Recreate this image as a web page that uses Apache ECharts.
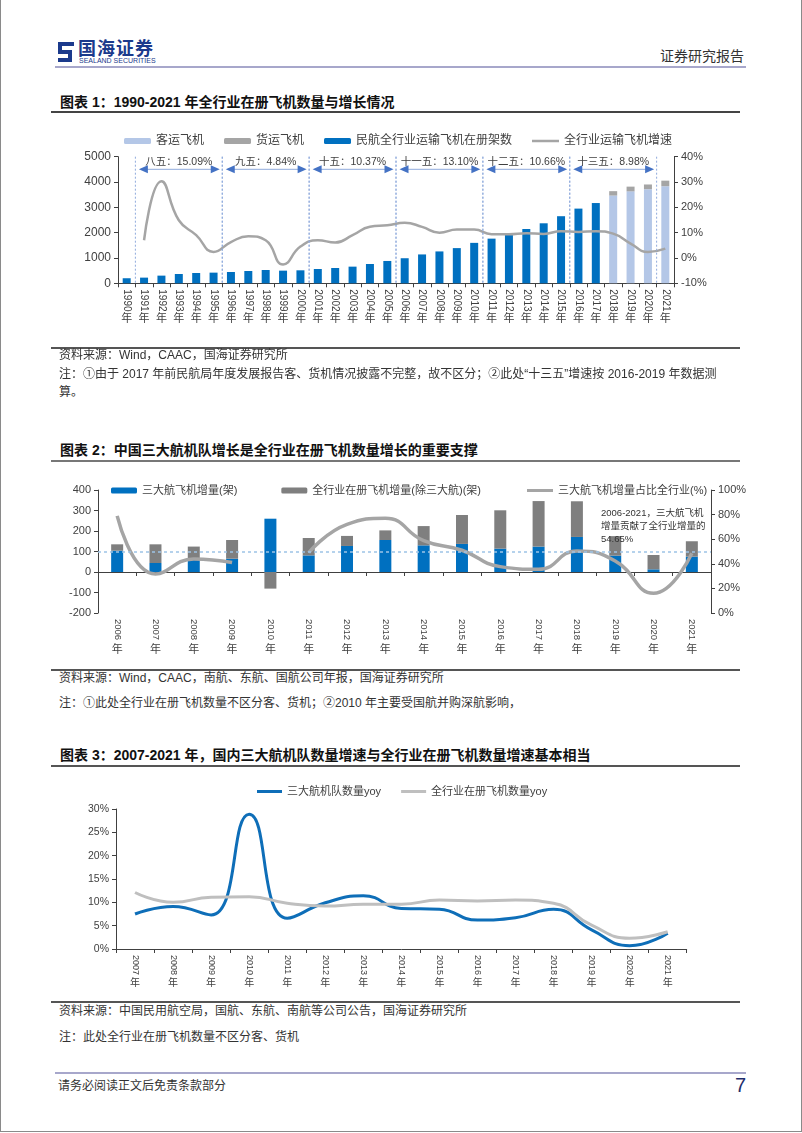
<!DOCTYPE html>
<html><head><meta charset="utf-8">
<script src="https://cdn.jsdelivr.net/npm/echarts@6/dist/echarts.min.js"></script>
<style>
body{margin:0;background:#fff;}
#page{position:relative;width:802px;height:1133px;overflow:hidden;background:#fff;font-family:"Liberation Sans","Noto Sans CJK SC",sans-serif;color:#333;}
.t{position:absolute;white-space:nowrap;line-height:1;}
.title{font-size:14px;font-weight:bold;color:#111;left:60px;}
.note{font-size:12px;color:#333;left:59px;}
.hl{position:absolute;}
.ch{position:absolute;left:0;width:802px;}
</style></head>
<body><div id="page">
<div class="hl" style="left:0;top:0;width:800px;height:1131px;border-left:1px solid #8a8a8a;border-right:1px solid #8a8a8a;border-bottom:1px solid #8a8a8a;"></div>
<svg style="position:absolute;left:57px;top:41px" width="18" height="22" viewBox="0 0 18 22">
<path d="M1 1 H17 V5 H5 V9 H15 V21 H1 V17 H11 V13 H1 Z" fill="#1B3A8C"/>
</svg>
<div class="t" style="left:78px;top:40px;font-size:18px;font-weight:bold;color:#1B3A8C;letter-spacing:1px">国海证券</div>
<div class="t" style="left:79px;top:57px;font-size:7px;color:#1B3A8C;">SEALAND SECURITIES</div>
<div class="t" style="left:660px;top:49px;font-size:14px;color:#333">证券研究报告</div>
<div class="hl" style="left:55px;top:66px;width:691px;height:2px;background:#A7A7CB"></div>

<div class="t title" style="top:94.5px">图表 1：1990-2021 年全行业在册飞机数量与增长情况</div>
<div class="hl" style="left:51px;top:111px;width:689px;height:1.5px;background:#444"></div>
<div id="c1" class="ch" style="top:120px;height:228px"></div>
<div class="hl" style="left:51px;top:347px;width:689px;height:1.5px;background:#555"></div>
<div class="t note" style="top:349px">资料来源：Wind，CAAC，国海证券研究所</div>
<div class="t note" style="top:368px">注：①由于 2017 年前民航局年度发展报告客、货机情况披露不完整，故不区分；②此处“十三五”增速按 2016-2019 年数据测</div>
<div class="t note" style="top:386px">算。</div>

<div class="t title" style="top:443px">图表 2：中国三大航机队增长是全行业在册飞机数量增长的重要支撑</div>
<div class="hl" style="left:51px;top:460px;width:689px;height:1.5px;background:#777"></div>
<div id="c2" class="ch" style="top:470px;height:195px"></div>
<div class="t" style="left:601px;top:507px;font-size:9.5px;color:#333;line-height:12.8px;white-space:nowrap">2006-2021，三大航飞机<br>增量贡献了全行业增量的<br>54.65%</div>
<div class="hl" style="left:51px;top:669px;width:689px;height:1.5px;background:#555"></div>
<div class="t note" style="top:672px">资料来源：Wind，CAAC，南航、东航、国航公司年报，国海证券研究所</div>
<div class="t note" style="top:697px">注：①此处全行业在册飞机数量不区分客、货机；②2010 年主要受国航并购深航影响，</div>

<div class="t title" style="top:748px">图表 3：2007-2021 年，国内三大航机队数量增速与全行业在册飞机数量增速基本相当</div>
<div class="hl" style="left:51px;top:765px;width:689px;height:1.5px;background:#555"></div>
<div id="c3" class="ch" style="top:775px;height:222px"></div>
<div class="hl" style="left:51px;top:1001px;width:689px;height:1.5px;background:#555"></div>
<div class="t note" style="top:1005px">资料来源：中国民用航空局，国航、东航、南航等公司公告，国海证券研究所</div>
<div class="t note" style="top:1031px">注：此处全行业在册飞机数量不区分客、货机</div>

<div class="hl" style="left:55px;top:1072px;width:691px;height:2px;background:#A7A7CB"></div>
<div class="t" style="left:58px;top:1080px;font-size:12px;color:#333">请务必阅读正文后免责条款部分</div>
<div class="t" style="left:735px;top:1075px;font-size:20px;color:#1F2D6B">7</div>
</div>
<script>
const FF='"Liberation Sans","Noto Sans CJK SC",sans-serif';
// ---------- Chart 1 data ----------
const years1=['1990','1991','1992','1993','1994','1995','1996','1997','1998','1999','2000','2001','2002','2003','2004','2005','2006','2007','2008','2009','2010','2011','2012','2013','2014','2015','2016','2017','2018','2019','2020','2021'];
const fleetTotal=[200,224,303,368,408,421,447,487,526,500,513,566,605,658,763,882,990,1140,1259,1390,1597,1764,1920,2145,2370,2650,2950,3170,null,null,null,null];
const splitYears=['2018','2019','2020','2021'];
const passengerFleet=[3466,3632,3717,3834];
const cargoFleet=[173,186,186,220];
const fleetGrowth=[null,7.0,30.3,14.9,9.0,2.4,6.3,8.6,7.0,-2.6,4.5,7.0,6.1,9.0,12.3,12.9,13.9,12.3,10.0,11.2,11.2,9.4,9.4,9.8,9.5,10.6,10.3,10.6,9.6,5.7,2.4,3.7];
const periodNames=['八五','九五','十五','十一五','十二五','十三五'];
const periodRates=['15.09%','4.84%','10.37%','13.10%','10.66%','8.98%'];
const periodStart=['1991','1996','2001','2006','2011','2016'];
const periodEnd=['1995','2000','2005','2010','2015','2020'];
// ---------- Chart 2 data ----------
const years2=['2006','2007','2008','2009','2010','2011','2012','2013','2014','2015','2016','2017','2018','2019','2020','2021'];
const big3Inc=[104,44,62,65,260,81,127,156,130,137,114,124,171,80,13,75];
const otherInc=[31,91,62,91,-81,85,49,47,94,141,187,222,174,95,70,75];
const big3Share=[78.9,31.7,44,41,null,49,72,77,58.8,51,37.7,35.5,50.4,42.3,16,48.5];
// ---------- Chart 3 data ----------
const years3=['2007','2008','2009','2010','2011','2012','2013','2014','2015','2016','2017','2018','2019','2020','2021'];
const big3Yoy=[7.5,9.1,7.3,28.9,6.6,9.9,11.4,8.7,8.5,6.2,6.7,8.5,4.1,0.7,3.4];
const allYoy=[12.1,10.0,11.1,11.2,9.8,9.2,9.6,9.6,10.5,10.3,10.5,9.8,5.1,2.3,3.7];

const AX='#404040', LB='#404040';
function catAxes(data, digitSize, nianSize, digitMargin, nianMargin){
  return [
    {type:'category',data:data,
      axisLine:{onZero:true,onZeroAxisIndex:0,lineStyle:{color:AX,width:1}},
      axisTick:{show:true,length:4,lineStyle:{color:AX}},
      axisLabel:{rotate:-90,interval:0,fontSize:digitSize,color:LB,margin:digitMargin,fontFamily:FF}},
    {type:'category',data:data,position:'bottom',axisLine:{show:false,onZero:false},axisTick:{show:false},
      axisLabel:{interval:0,formatter:()=>'年',fontSize:nianSize,color:LB,margin:nianMargin,fontFamily:FF}}
  ];
}
function valAxis(min,max,iv,pos,pct,size){
  return {type:'value',min:min,max:max,interval:iv,position:pos,splitLine:{show:false},
    axisLine:{show:true,onZero:false,lineStyle:{color:AX}},axisTick:{show:true,length:4,lineStyle:{color:AX}},
    axisLabel:{fontSize:size,color:LB,margin:7,fontFamily:FF,formatter:v=>pct?(v+'%'):String(v)}};
}
function lineLegend(names,left,top,width,h,fs){
  return {left:left,top:top,itemWidth:width,itemHeight:h,itemGap:20,icon:'rect',textStyle:{fontSize:fs,color:'#404040'},data:names};
}
// ---------- Chart 1 ----------
const c1=echarts.init(document.getElementById('c1'));
const pick=(vals)=>years1.map(y=>{const i=splitYears.indexOf(y);return i<0?'-':vals[i];});
const xa1=catAxes(years1,10,11,6,30);
xa1.push({type:'value',min:-0.5,max:years1.length-0.5,show:false});
c1.setOption({
  animation:false,textStyle:{fontFamily:FF},
  legend:[{left:119,top:10,itemWidth:27,itemHeight:6,itemGap:20,textStyle:{fontSize:12,color:'#404040'},
    data:['客运飞机','货运飞机','民航全行业运输飞机在册架数']},
    lineLegend(['全行业运输飞机增速'],527,10,27,2.5,12)],
  grid:{left:118,top:36.7,width:556,height:126.6,outerBoundsMode:'none',containLabel:false},
  xAxis:xa1,
  yAxis:[valAxis(0,5000,1000,'left',false,12),valAxis(-10,40,10,'right',true,11)],
  series:[
    {name:'民航全行业运输飞机在册架数',type:'bar',stack:'s',barWidth:8,data:fleetTotal.map(v=>v==null?'-':v),itemStyle:{color:'#0070C0'}},
    {name:'客运飞机',type:'bar',stack:'s',barWidth:8,data:pick(passengerFleet),itemStyle:{color:'#B4C7E7'}},
    {name:'货运飞机',type:'bar',stack:'s',barWidth:8,data:pick(cargoFleet),itemStyle:{color:'#A5A5A5'}},
    {name:'全行业运输飞机增速',type:'line',yAxisIndex:1,smooth:true,symbol:'none',connectNulls:false,data:fleetGrowth,
      lineStyle:{color:'#A5A5A5',width:2.5},itemStyle:{color:'#A5A5A5'},z:4},
    {type:'custom',xAxisIndex:2,yAxisIndex:0,silent:true,z:6,
      data:periodStart.map((s,i)=>[years1.indexOf(s)-0.5,years1.indexOf(periodEnd[i])+0.5,i]),
      renderItem:function(params,api){
        const x1=api.coord([api.value(0),0])[0], x2=api.coord([api.value(1),0])[0];
        const cs=params.coordSys, top=cs.y, bot=cs.y+cs.height, ay=top+12.6;
        const i=api.value(2);
        const dash={stroke:'#8FAADC',lineWidth:1,lineDash:[2,2]};
        return {type:'group',children:[
          {type:'line',shape:{x1:x1,y1:top,x2:x1,y2:bot},style:dash},
          {type:'line',shape:{x1:x2,y1:top,x2:x2,y2:bot},style:dash},
          {type:'line',shape:{x1:x1+6,y1:ay,x2:x2-6,y2:ay},style:{stroke:'#8FAADC',lineWidth:1}},
          {type:'polygon',shape:{points:[[x1+3.5,ay],[x1+12.5,ay-4],[x1+12.5,ay+4]]},style:{fill:'#4472C4'}},
          {type:'polygon',shape:{points:[[x2-2.5,ay],[x2-11.5,ay-4],[x2-11.5,ay+4]]},style:{fill:'#4472C4'}},
          {type:'text',x:(x1+x2)/2,y:top+5,style:{text:periodNames[i]+'：'+periodRates[i],fill:'#404040',fontSize:10.5,fontFamily:FF,align:'center',verticalAlign:'middle'}}
        ]};
      }}
  ]
});
// ---------- Chart 2 ----------
const c2=echarts.init(document.getElementById('c2'));
c2.setOption({
  animation:false,textStyle:{fontFamily:FF},
  legend:[{left:106,top:10,itemWidth:26,itemHeight:6,itemGap:44,textStyle:{fontSize:11,color:'#404040'},
    data:['三大航飞机增量(架)','全行业在册飞机增量(除三大航)(架)']},
    lineLegend(['三大航飞机增量占比全行业(%)'],522,10,26,3,11)],
  grid:{left:98,top:20,width:613,height:123,outerBoundsMode:'none',containLabel:false},
  xAxis:catAxes(years2,9.5,11,6,31),
  yAxis:[valAxis(-200,400,100,'left',false,11),valAxis(0,100,20,'right',true,11)],
  series:[
    {type:'line',data:years2.map(()=>'-'),symbol:'none',silent:true,z:1,
      markLine:{silent:true,symbol:'none',label:{show:false},lineStyle:{color:'#9DC3E6',type:[3,3],width:1.5},data:[{yAxis:100}]}},
    {name:'三大航飞机增量(架)',type:'bar',stack:'a',barWidth:12,data:big3Inc,itemStyle:{color:'#0070C0'},z:2},
    {name:'全行业在册飞机增量(除三大航)(架)',type:'bar',stack:'a',barWidth:12,data:otherInc,itemStyle:{color:'#7F7F7F'},z:2},
    {name:'三大航飞机增量占比全行业(%)',type:'line',yAxisIndex:1,smooth:true,symbol:'none',connectNulls:false,data:big3Share,
      lineStyle:{color:'#A5A5A5',width:3.5},itemStyle:{color:'#A5A5A5'},z:3}
  ]
});
// ---------- Chart 3 ----------
const c3=echarts.init(document.getElementById('c3'));
c3.setOption({
  animation:false,textStyle:{fontFamily:FF},
  legend:lineLegend(['三大航机队数量yoy','全行业在册飞机数量yoy'],252,6,25,3,11),
  grid:{left:116,top:34,width:570.7,height:140,outerBoundsMode:'none',containLabel:false},
  xAxis:catAxes(years3,9,10,6,29),
  yAxis:[valAxis(0,30,5,'left',true,10.5)],
  series:[
    {name:'三大航机队数量yoy',type:'line',smooth:true,symbol:'none',data:big3Yoy,lineStyle:{color:'#0E6EB8',width:3},itemStyle:{color:'#0E6EB8'}},
    {name:'全行业在册飞机数量yoy',type:'line',smooth:true,symbol:'none',data:allYoy,lineStyle:{color:'#BFBFBF',width:3},itemStyle:{color:'#BFBFBF'}}
  ]
});
</script>
</body></html>
